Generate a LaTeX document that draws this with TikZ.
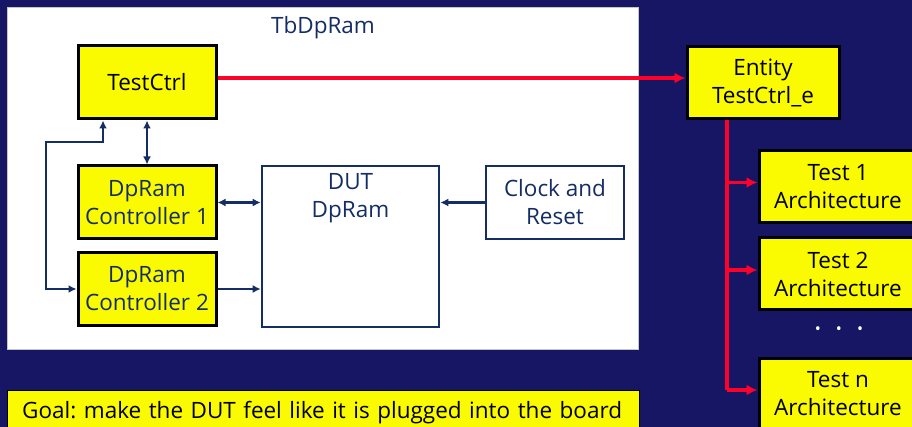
\documentclass[tikz,border=0pt]{standalone}
\usepackage{fontspec}
\setmainfont{Open Sans}
\usepackage{tikz}
\usetikzlibrary{arrows.meta,calc,positioning}
\frenchspacing

\definecolor{bgnavy}{RGB}{22,22,100}
\definecolor{txtnavy}{RGB}{20,45,100}
\definecolor{linered}{RGB}{255,0,40}
\definecolor{boxyellow}{RGB}{250,250,0}

\begin{document}
\begin{tikzpicture}[x=1pt, y=-1pt, font=\fontsize{22.5}{28}\selectfont,
    ybox/.style={rectangle, draw=black, line width=3pt, fill=boxyellow, align=center, inner sep=0pt},
    wbox/.style={rectangle, draw=txtnavy, line width=2.6pt, fill=white, text=txtnavy, align=center, inner sep=0pt},
    navyarrow/.style={draw=txtnavy, line width=2.6pt, -{Latex[length=8pt,width=8pt]}},
    navyboth/.style={navyarrow, {Latex[length=8pt,width=8pt]}-{Latex[length=8pt,width=8pt]}},
    redline/.style={draw=linered, line width=3.3pt},
    redarrow/.style={redline, -{Latex[length=11pt,width=11pt]}}]
    \useasboundingbox (0,0) rectangle (912,427);
    \clip (0,0) rectangle (912,427);
    \fill[bgnavy] (0,0) rectangle (912,427);

    % Testbench panel
    \node[rectangle, fill=white, draw=gray!45, line width=0.8pt, minimum width=631pt, minimum height=342pt, inner sep=0pt] (tb) at (322.5,178) {};
    \node[text=txtnavy] (title) at (323,28) {TbDpRam};

    % Blocks inside the testbench
    \node[ybox, minimum width=138pt, minimum height=73pt] (testctrl) at (147,82.5) {TestCtrl};
    \node[ybox, text=txtnavy, minimum width=138pt, minimum height=73pt] (ctrlA) at (147,202.5) {DpRam\\Controller 1};
    \node[ybox, text=txtnavy, minimum width=138pt, minimum height=73pt] (ctrlB) at (147,289) {DpRam\\Controller 2};
    \node[wbox, minimum width=177pt, minimum height=161pt,
          label={[text=txtnavy, align=center, anchor=north, yshift=-5pt]north:DUT\\DpRam}] (dut) at (350.5,246.5) {};
    \node[wbox, minimum width=138pt, minimum height=73pt] (clock) at (555,202.5) {Clock and\\Reset};

    % Connections in the testbench
    \draw[navyboth] (testctrl) -- (ctrlA);
    \coordinate (loop) at (46,142);
    \draw[navyboth] ([xshift=-44pt]testctrl.south) |- (loop) |- (ctrlB.west);
    \draw[navyboth] (ctrlA.east) -- (ctrlA.east -| dut.west);
    \draw[navyarrow] (ctrlB.east) -- (ctrlB.east -| dut.west);
    \draw[navyarrow] (clock.west) -- (clock.west -| dut.east);

    % Entity and its architectures
    \node[ybox, minimum width=152pt, minimum height=72pt] (entity) at (763,83) {Entity\\TestCtrl\_e};
    \draw[redarrow] ([yshift=4.5pt]testctrl.east) -- ([yshift=4.5pt]testctrl.east -| entity.west);

    \coordinate (trunk) at ([xshift=-36pt]entity.south);
    \foreach \t/\y/\lab in {test1/186.5/Test 1, test2/274/Test 2, testn/394/Test n} {
        \node[ybox, minimum width=158pt, minimum height=72pt] (\t) at (838,\y) {\lab\\Architecture};
        \coordinate (in-\t) at ([yshift=4pt]\t.west);
        \draw[redarrow] (in-\t -| trunk) -- (in-\t);
    }
    \draw[redline] (trunk) -- (in-testn -| trunk);
    \node[text=white, font=\fontsize{16}{20}\selectfont] (dots) at (839,331) {•\hspace{15pt}•\hspace{15pt}•};

    % Goal
    \node[ybox, line width=1.4pt, anchor=north west, minimum width=632pt, minimum height=44pt,
          text width=625pt, align=left] (goal) at (7,390)
        {\hspace*{11pt}Goal: make the DUT feel like it is plugged into the board};
\end{tikzpicture}
\end{document}
